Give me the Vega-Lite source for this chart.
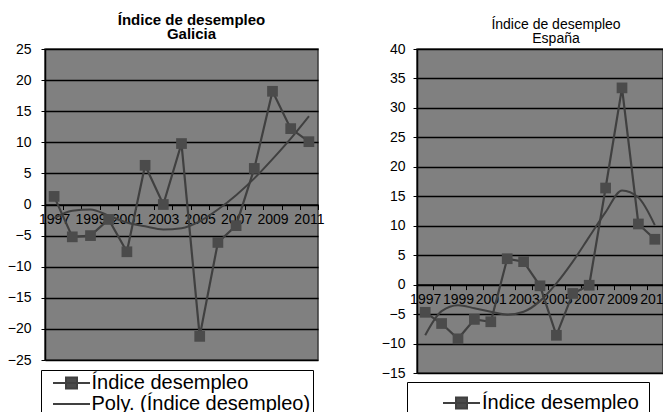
{
  "$schema": "https://vega.github.io/schema/vega-lite/v6.json",
  "padding": {"left": 6, "top": 11, "right": 0, "bottom": 0},
  "background": "white",
  "config": {
    "font": "Liberation Sans",
    "view": {"fill": "#808080", "stroke": "#3a3a3a", "strokeWidth": 1.5},
    "axis": {"labelColor": "black", "domainColor": "black", "tickColor": "black", "labelFontSize": 14, "title": null}
  },
  "datasets": {
    "galicia": [
      {"year": 1997, "value": 1.3, "series": "Índice desempleo"},
      {"year": 1998, "value": -5.2, "series": "Índice desempleo"},
      {"year": 1999, "value": -5.0, "series": "Índice desempleo"},
      {"year": 2000, "value": -2.4, "series": "Índice desempleo"},
      {"year": 2001, "value": -7.6, "series": "Índice desempleo"},
      {"year": 2002, "value": 6.3, "series": "Índice desempleo"},
      {"year": 2003, "value": 0.0, "series": "Índice desempleo"},
      {"year": 2004, "value": 9.8, "series": "Índice desempleo"},
      {"year": 2005, "value": -21.2, "series": "Índice desempleo"},
      {"year": 2006, "value": -6.1, "series": "Índice desempleo"},
      {"year": 2007, "value": -3.4, "series": "Índice desempleo"},
      {"year": 2008, "value": 5.8, "series": "Índice desempleo"},
      {"year": 2009, "value": 18.2, "series": "Índice desempleo"},
      {"year": 2010, "value": 12.2, "series": "Índice desempleo"},
      {"year": 2011, "value": 10.1, "series": "Índice desempleo"},
      {"year": 1997, "value": -2.2, "series": "Poly. (Índice desempleo)"},
      {"year": 1998, "value": -1.0, "series": "Poly. (Índice desempleo)"},
      {"year": 1999, "value": -0.8, "series": "Poly. (Índice desempleo)"},
      {"year": 2000, "value": -1.8, "series": "Poly. (Índice desempleo)"},
      {"year": 2001, "value": -2.9, "series": "Poly. (Índice desempleo)"},
      {"year": 2002, "value": -3.5, "series": "Poly. (Índice desempleo)"},
      {"year": 2003, "value": -4.0, "series": "Poly. (Índice desempleo)"},
      {"year": 2004, "value": -3.8, "series": "Poly. (Índice desempleo)"},
      {"year": 2005, "value": -2.7, "series": "Poly. (Índice desempleo)"},
      {"year": 2006, "value": -0.8, "series": "Poly. (Índice desempleo)"},
      {"year": 2007, "value": 1.5, "series": "Poly. (Índice desempleo)"},
      {"year": 2008, "value": 4.2, "series": "Poly. (Índice desempleo)"},
      {"year": 2009, "value": 7.3, "series": "Poly. (Índice desempleo)"},
      {"year": 2010, "value": 10.6, "series": "Poly. (Índice desempleo)"},
      {"year": 2011, "value": 14.2, "series": "Poly. (Índice desempleo)"}
    ],
    "espana": [
      {"year": 1997, "value": -4.7, "series": "Índice desempleo"},
      {"year": 1998, "value": -6.6, "series": "Índice desempleo"},
      {"year": 1999, "value": -9.2, "series": "Índice desempleo"},
      {"year": 2000, "value": -5.9, "series": "Índice desempleo"},
      {"year": 2001, "value": -6.3, "series": "Índice desempleo"},
      {"year": 2002, "value": 4.4, "series": "Índice desempleo"},
      {"year": 2003, "value": 3.9, "series": "Índice desempleo"},
      {"year": 2004, "value": -0.2, "series": "Índice desempleo"},
      {"year": 2005, "value": -8.6, "series": "Índice desempleo"},
      {"year": 2006, "value": -1.5, "series": "Índice desempleo"},
      {"year": 2007, "value": -0.1, "series": "Índice desempleo"},
      {"year": 2008, "value": 16.4, "series": "Índice desempleo"},
      {"year": 2009, "value": 33.4, "series": "Índice desempleo"},
      {"year": 2010, "value": 10.3, "series": "Índice desempleo"},
      {"year": 2011, "value": 7.7, "series": "Índice desempleo"},
      {"year": 1997, "value": -8.6, "series": "Poly. (Índice desempleo)"},
      {"year": 1998, "value": -4.5, "series": "Poly. (Índice desempleo)"},
      {"year": 1999, "value": -3.5, "series": "Poly. (Índice desempleo)"},
      {"year": 2000, "value": -4.0, "series": "Poly. (Índice desempleo)"},
      {"year": 2001, "value": -4.6, "series": "Poly. (Índice desempleo)"},
      {"year": 2002, "value": -5.1, "series": "Poly. (Índice desempleo)"},
      {"year": 2003, "value": -4.6, "series": "Poly. (Índice desempleo)"},
      {"year": 2004, "value": -2.8, "series": "Poly. (Índice desempleo)"},
      {"year": 2005, "value": 0.2, "series": "Poly. (Índice desempleo)"},
      {"year": 2006, "value": 3.9, "series": "Poly. (Índice desempleo)"},
      {"year": 2007, "value": 8.1, "series": "Poly. (Índice desempleo)"},
      {"year": 2008, "value": 12.3, "series": "Poly. (Índice desempleo)"},
      {"year": 2009, "value": 16.0, "series": "Poly. (Índice desempleo)"},
      {"year": 2010, "value": 14.8, "series": "Poly. (Índice desempleo)"},
      {"year": 2011, "value": 10.1, "series": "Poly. (Índice desempleo)"}
    ]
  },
  "spacing": 55,
  "resolve": {"scale": {"color": "independent", "x": "independent", "y": "independent"}, "legend": {"color": "independent"}},
  "hconcat": [
    {
      "width": 273,
      "height": 311,
      "data": {"name": "galicia"},
      "title": {"text": ["Índice de desempleo", "Galicia"], "fontSize": 15, "fontWeight": "bold", "color": "black", "lineHeight": 14.5, "anchor": "middle", "dx": 10, "offset": 0},
      "encoding": {
        "x": {"field": "year", "type": "ordinal", "bandPosition": 0.5,
          "scale": {"type": "band", "paddingInner": 0, "paddingOuter": 0},
          "axis": {"labelExpr": "datum.value % 2 == 1 ? datum.label : ''", "labelAngle": 0, "labelOverlap": false, "tickBand": "extent", "offset": -155.5, "tickSize": 5, "labelPadding": 3, "domainWidth": 1.5}},
        "y": {"field": "value", "type": "quantitative",
          "scale": {"domain": [-25, 25]},
          "axis": {"values": [-25, -20, -15, -10, -5, 0, 5, 10, 15, 20, 25], "grid": true, "gridColor": "black", "gridWidth": 1.5, "tickSize": 4, "labelPadding": 10, "domainWidth": 1.5}}
      },
      "layer": [
        {
          "transform": [{"filter": "datum.series != 'Índice desempleo'"}],
          "mark": {"type": "line", "interpolate": "monotone", "strokeWidth": 2},
          "encoding": {"color": {"field": "series", "type": "nominal",
            "scale": {"domain": ["Índice desempleo", "Poly. (Índice desempleo)"], "range": ["#404040", "#404040"]},
            "legend": {"orient": "none", "legendX": -4, "legendY": 321, "direction": "vertical", "title": null,
              "labelFontSize": 20, "labelColor": "black", "labelLimit": 400, "strokeColor": "black", "fillColor": "white", "padding": 2,
              "symbolSize": 400, "symbolStrokeWidth": 2, "symbolOffset": 17.5, "labelOffset": 9, "rowPadding": 0,
              "labelExpr": "datum.label + (datum.index === 1 ? '\u00a0' : '')",
              "encode": {"symbols": {"update": {
                "shape": {"signal": "datum.index === 0 ? 'M-1.85,0H1.85M-0.55,-0.55H0.55V0.55H-0.55Z' : 'M-1.85,0H1.85'"},
                "fill": {"signal": "datum.index === 0 ? '#4b4b4b' : 'transparent'"},
                "stroke": {"value": "#404040"}, "opacity": {"value": 1}}}}}}}
        },
        {
          "transform": [{"filter": "datum.series == 'Índice desempleo'"}],
          "mark": {"type": "line", "strokeWidth": 2.2},
          "encoding": {"color": {"field": "series", "type": "nominal"}}
        },
        {
          "transform": [{"filter": "datum.series == 'Índice desempleo'"}],
          "mark": {"type": "point", "shape": "square", "filled": true, "size": 115, "color": "#4b4b4b", "opacity": 1}
        }
      ]
    },
    {
      "width": 246,
      "height": 324,
      "data": {"name": "espana"},
      "title": {"text": ["Índice de desempleo", "España"], "fontSize": 14, "fontWeight": "normal", "color": "black", "lineHeight": 14.5, "anchor": "middle", "dx": 16, "offset": -4},
      "encoding": {
        "x": {"field": "year", "type": "ordinal", "bandPosition": 0.5,
          "scale": {"type": "band", "paddingInner": 0, "paddingOuter": 0},
          "axis": {"labelExpr": "datum.value % 2 == 1 ? datum.label : ''", "labelAngle": 0, "labelOverlap": false, "tickBand": "extent", "offset": -88.4, "tickSize": 5, "labelPadding": 3, "domainWidth": 1.5}},
        "y": {"field": "value", "type": "quantitative",
          "scale": {"domain": [-15, 40]},
          "axis": {"values": [-15, -10, -5, 0, 5, 10, 15, 20, 25, 30, 35, 40], "grid": true, "gridColor": "black", "gridWidth": 1.5, "tickSize": 4, "labelPadding": 8, "domainWidth": 1.5}}
      },
      "layer": [
        {
          "transform": [{"filter": "datum.series != 'Índice desempleo'"}],
          "mark": {"type": "line", "interpolate": "monotone", "strokeWidth": 2},
          "encoding": {"color": {"field": "series", "type": "nominal",
            "scale": {"domain": ["Índice desempleo", "Poly. (Índice desempleo)"], "range": ["#404040", "#404040"]},
            "legend": {"orient": "none", "legendX": -10, "legendY": 333, "direction": "vertical", "title": null,
              "values": ["Índice desempleo"],
              "labelFontSize": 20, "labelColor": "black", "labelLimit": 400, "strokeColor": "black", "fillColor": "white", "padding": 10,
              "symbolSize": 400, "symbolStrokeWidth": 2, "symbolOffset": 33.5, "labelOffset": 9.5, "rowPadding": 0,
              "labelExpr": "datum.label + '\u00a0\u00a0\u00a0\u00a0\u00a0'",
              "encode": {"symbols": {"update": {
                "shape": {"value": "M-1.85,0H1.85M-0.55,-0.55H0.55V0.55H-0.55Z"},
                "fill": {"value": "#4b4b4b"},
                "stroke": {"value": "#404040"}, "opacity": {"value": 1}}}}}}}
        },
        {
          "transform": [{"filter": "datum.series == 'Índice desempleo'"}],
          "mark": {"type": "line", "strokeWidth": 2.2},
          "encoding": {"color": {"field": "series", "type": "nominal"}}
        },
        {
          "transform": [{"filter": "datum.series == 'Índice desempleo'"}],
          "mark": {"type": "point", "shape": "square", "filled": true, "size": 115, "color": "#4b4b4b", "opacity": 1}
        }
      ]
    }
  ]
}
